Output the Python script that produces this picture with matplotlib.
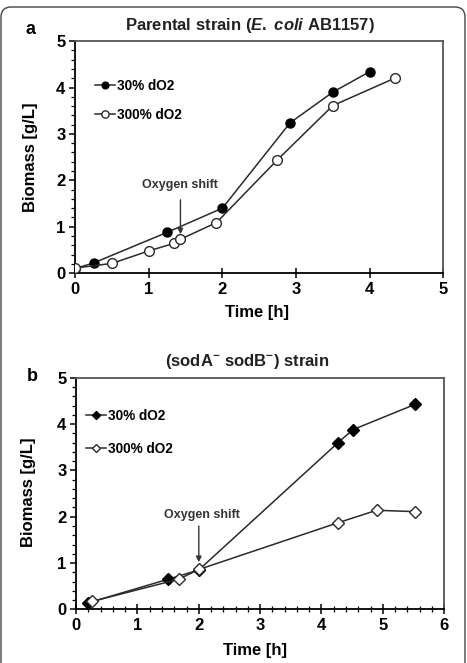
import numpy as np
import matplotlib
matplotlib.use('Agg')
import matplotlib.pyplot as plt
from matplotlib.patches import FancyBboxPatch
from matplotlib.ticker import MultipleLocator

plt.rcParams['font.family'] = ['Liberation Sans', 'DejaVu Sans']
plt.rcParams['font.weight'] = 'bold'
plt.rcParams['mathtext.fontset'] = 'custom'
plt.rcParams['mathtext.rm'] = 'Liberation Sans:bold'
plt.rcParams['mathtext.bf'] = 'Liberation Sans:bold'
plt.rcParams['mathtext.it'] = 'Liberation Sans:italic:bold'

# panel a: parental strain
a_time_30 = [0.0, 0.25, 1.25, 2.0, 2.92, 3.5, 4.0]
a_bio_30 = [0.10, 0.22, 0.88, 1.40, 3.24, 3.90, 4.34]
a_time_300 = [0.0, 0.5, 1.0, 1.34, 1.43, 1.92, 2.74, 3.5, 4.34]
a_bio_300 = [0.11, 0.21, 0.48, 0.64, 0.73, 1.09, 2.43, 3.61, 4.20]

# panel b: sodA- sodB- strain
b_time_30 = [0.2, 1.5, 2.0, 4.27, 4.51, 5.53]
b_bio_30 = [0.14, 0.65, 0.85, 3.60, 3.88, 4.43]
b_time_300 = [0.26, 1.67, 2.0, 4.27, 4.9, 5.53]
b_bio_300 = [0.17, 0.65, 0.86, 1.87, 2.14, 2.11]

labels = ['30% dO2', '300% dO2']

fig = plt.figure(figsize=(4.67, 6.63), dpi=100)
fig.patches.append(FancyBboxPatch((1, -30), 464, 686,
                                  boxstyle='round,pad=0,rounding_size=10',
                                  transform=None, fc='none', ec='#444444', lw=1.0))

axa = fig.add_axes([0.161, 0.588, 0.788, 0.350])
axb = fig.add_axes([0.163, 0.081, 0.788, 0.349])

lc = '#2a2a2a'
axa.plot(a_time_30, a_bio_30, '-o', color=lc, lw=1.1, ms=6.5, mfc='black', mec='black', label=labels[0], zorder=3)
axa.plot(a_time_300, a_bio_300, '-o', color=lc, lw=1.1, ms=7, mfc='white', mec=lc, mew=1.0, label=labels[1], zorder=4)
axb.plot(b_time_30, b_bio_30, '-D', color=lc, lw=1.1, ms=6.5, mfc='black', mec='black', label=labels[0], zorder=3)
axb.plot(b_time_300, b_bio_300, '-D', color=lc, lw=1.1, ms=6.5, mfc='white', mec=lc, mew=1.0, label=labels[1], zorder=4)

for ax, xmax in [(axa, 5), (axb, 6)]:
    ax.set_xlim(0, xmax)
    ax.set_ylim(0, 5)
    ax.xaxis.set_major_locator(MultipleLocator(1))
    ax.yaxis.set_major_locator(MultipleLocator(1))
    ax.yaxis.set_minor_locator(MultipleLocator(0.2))
    for s in ['left', 'bottom']:
        ax.spines[s].set_linewidth(1.3)
        ax.spines[s].set_color('black')
    for s in ['right', 'top']:
        ax.spines[s].set_linewidth(1.3)
        ax.spines[s].set_color('#555555')
    ax.tick_params(axis='y', which='major', direction='out', length=4, width=1.1, labelsize=12, pad=3)
    ax.tick_params(axis='y', which='minor', direction='out', length=3, width=0.9)
    ax.tick_params(axis='x', which='major', direction='inout', length=7, width=1.1, labelsize=12, pad=3)
    for t in ax.get_xticklabels() + ax.get_yticklabels():
        t.set_fontweight('bold')

axb.xaxis.set_minor_locator(MultipleLocator(0.2))
axb.tick_params(axis='x', which='minor', direction='inout', length=4, width=0.9)

axa.legend(loc='upper left', bbox_to_anchor=(0.035, 0.865), frameon=False,
           handlelength=1.5, handletextpad=0.15, labelspacing=1.1, markerscale=0.75, borderpad=0,
           prop={'weight': 'bold', 'size': 9.8})
axb.legend(loc='upper left', bbox_to_anchor=(0.008, 0.895), frameon=False,
           handlelength=1.5, handletextpad=0.15, labelspacing=1.4, markerscale=0.6, borderpad=0,
           prop={'weight': 'bold', 'size': 9.8})

axa.text(1.43, 1.90, 'Oxygen shift', ha='center', va='center', fontsize=9, fontweight='bold', color='#333333')
axa.annotate('', xy=(1.43, 0.84), xytext=(1.43, 1.58),
             arrowprops=dict(arrowstyle='-|>', color='#333333', lw=1.0, mutation_scale=8, shrinkA=0, shrinkB=0))
axb.text(2.05, 2.04, 'Oxygen shift', ha='center', va='center', fontsize=9, fontweight='bold', color='#333333')
axb.annotate('', xy=(2.0, 1.02), xytext=(2.0, 1.80),
             arrowprops=dict(arrowstyle='-|>', color='#333333', lw=1.0, mutation_scale=8, shrinkA=0, shrinkB=0))

fig.text(0.535, 0.962, r'Parental strain ($\mathit{E.}$ $\mathit{coli}$ AB1157)', ha='center', va='center', fontsize=12, fontweight='bold', color='#222222')
fig.text(0.53, 0.4545, r'(sodA$^{-}$ sodB$^{-}$) strain', ha='center', va='center', fontsize=12, fontweight='bold', color='#222222')
fig.text(0.066, 0.956, 'a', ha='center', va='center', fontsize=13, fontweight='bold')
fig.text(0.070, 0.432, 'b', ha='center', va='center', fontsize=13, fontweight='bold')

fig.text(0.066, 0.763, 'Biomass [g/L]', rotation=90, ha='center', va='center', fontsize=12, fontweight='bold')
fig.text(0.060, 0.258, 'Biomass [g/L]', rotation=90, ha='center', va='center', fontsize=12, fontweight='bold')
fig.text(0.550, 0.528, 'Time [h]', ha='center', va='center', fontsize=12, fontweight='bold')
fig.text(0.546, 0.0196, 'Time [h]', ha='center', va='center', fontsize=12, fontweight='bold')

fig.savefig('out.png', dpi=100)
